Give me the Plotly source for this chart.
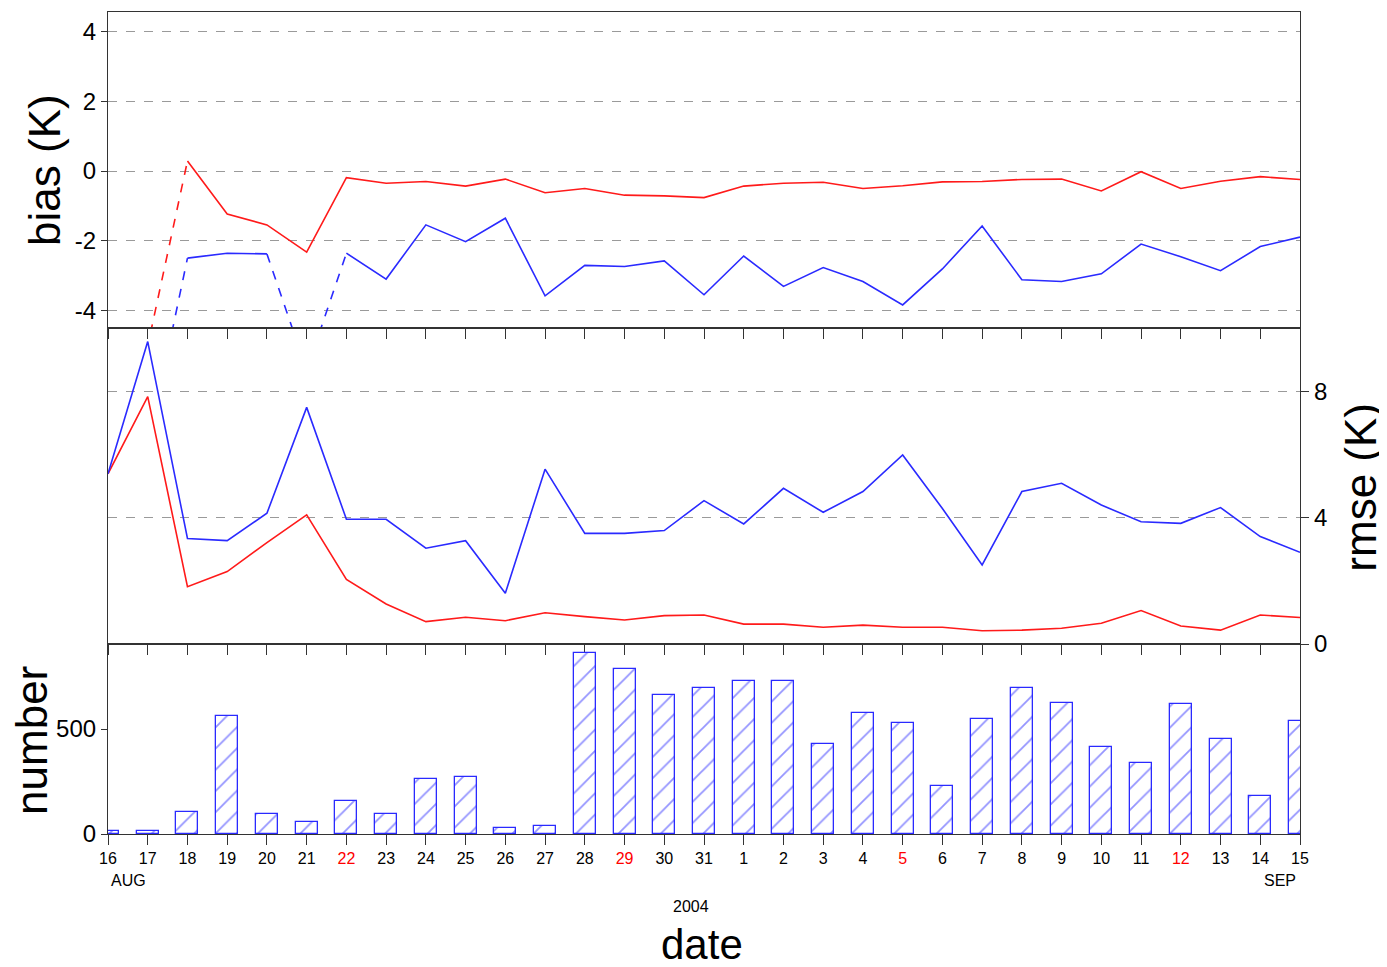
import pandas as pd
import plotly.graph_objects as go

# ---------------- data ----------------
dates = [d.strftime("%Y-%m-%d") for d in pd.date_range("2004-08-16", "2004-09-15")]
day_labels = ["16", "17", "18", "19", "20", "21", "22", "23", "24", "25", "26", "27", "28", "29", "30", "31",
              "1", "2", "3", "4", "5", "6", "7", "8", "9", "10", "11", "12", "13", "14", "15"]
sunday_labels = ["22", "29", "5", "12"]

bias_red = [-5.3, -5.0, 0.29, -1.23, -1.54, -2.32, -0.19, -0.35, -0.30, -0.43, -0.23, -0.62, -0.50, -0.69, -0.71, -0.76,
            -0.43, -0.35, -0.32, -0.50, -0.42, -0.31, -0.30, -0.24, -0.23, -0.57, -0.02, -0.50, -0.29, -0.16, -0.24]
bias_blue = [-5.3, -7.9, -2.49, -2.35, -2.37, -5.7, -2.35, -3.09, -1.54, -2.02, -1.35, -3.57, -2.70, -2.73, -2.57, -3.54,
             -2.43, -3.30, -2.76, -3.16, -3.83, -2.80, -1.57, -3.11, -3.16, -2.94, -2.09, -2.45, -2.85, -2.16, -1.89]
rmse_red = [5.40, 7.85, 1.82, 2.30, 3.22, 4.10, 2.05, 1.27, 0.71, 0.85, 0.74, 0.99, 0.87, 0.76, 0.90, 0.92,
            0.63, 0.63, 0.53, 0.60, 0.53, 0.53, 0.42, 0.44, 0.50, 0.66, 1.06, 0.57, 0.44, 0.92, 0.84]
rmse_blue = [5.40, 9.60, 3.35, 3.28, 4.15, 7.51, 3.96, 3.96, 3.04, 3.28, 1.61, 5.55, 3.51, 3.51, 3.60, 4.55,
             3.81, 4.94, 4.18, 4.84, 6.00, 4.30, 2.51, 4.84, 5.10, 4.41, 3.88, 3.83, 4.33, 3.41, 2.91]
counts = [16, 14, 103, 562, 95, 59, 157, 95, 260, 273, 27, 38, 863, 784, 662, 694,
          728, 728, 429, 575, 530, 229, 549, 694, 622, 416, 336, 617, 451, 183, 540]

BIAS_RANGE = [-4.49, 4.55]
RMSE_RANGE = [0, 10.03]
NUM_RANGE = [0, 905]

RED = "#ff1a1a"
BLUE = "#2a2aff"
FONT = "Liberation Sans, Arial, sans-serif"


def split_segments(xs, ys, lo, hi):
    """Solid where both ends are inside the axis range, dashed otherwise."""
    out = {"solid": ([], []), "dash": ([], [])}
    for i in range(len(xs) - 1):
        inside = lo <= ys[i] <= hi and lo <= ys[i + 1] <= hi
        key = "solid" if inside else "dash"
        sx, sy = out[key]
        if sx and sx[-1] == xs[i]:
            sx.append(xs[i + 1]); sy.append(ys[i + 1])
        else:
            if sx:
                sx.append(None); sy.append(None)
            sx += [xs[i], xs[i + 1]]; sy += [ys[i], ys[i + 1]]
    return out


fig = go.Figure()

# ---- bias panel ----
for ys, col in [(bias_red, RED), (bias_blue, BLUE)]:
    segs = split_segments(dates, ys, BIAS_RANGE[0], BIAS_RANGE[1])
    for key, dash in [("solid", "solid"), ("dash", "dash")]:
        sx, sy = segs[key]
        if sx:
            fig.add_trace(go.Scatter(x=sx, y=sy, mode="lines", xaxis="x", yaxis="y",
                                     line=dict(color=col, width=1.6, dash=dash),
                                     showlegend=False, connectgaps=False))

# ---- rmse panel ----
for ys, col in [(rmse_red, RED), (rmse_blue, BLUE)]:
    fig.add_trace(go.Scatter(x=dates, y=ys, mode="lines", xaxis="x2", yaxis="y2",
                             line=dict(color=col, width=1.6), showlegend=False))

# ---- number panel ----
fig.add_trace(go.Bar(x=dates, y=counts, xaxis="x3", yaxis="y3",
                     width=0.555 * 86400000,
                     marker=dict(color="white",
                                 line=dict(color=BLUE, width=1.3),
                                 pattern=dict(shape="/", fgcolor=BLUE, bgcolor="white",
                                              size=15, solidity=0.12)),
                     showlegend=False))

ticktext = [f"<span style='color:red'>{d}</span>" if d in sunday_labels else d for d in day_labels]

xcommon = dict(type="date", range=[dates[0], dates[-1]], showgrid=False, zeroline=False,
               showline=True, linecolor="#333333", linewidth=1.2, mirror=True,
               tickmode="array", tickvals=dates, ticks="outside", tickcolor="#333333",
               ticklen=10, tickwidth=1.2)

top_h = 316 / 822
mid_h = 316 / 822
bot_h = 190 / 822

# The page body adds an 8px margin, so the figure is 8px smaller and margins shifted.
fig.update_layout(
    width=1379, height=959,
    margin=dict(l=100, r=87, t=4, b=133),
    paper_bgcolor="white", plot_bgcolor="white",
    font=dict(family=FONT, color="black"),
    bargap=0,
    xaxis=dict(**xcommon, anchor="y", domain=[0, 1], showticklabels=False),
    xaxis2=dict(**xcommon, anchor="y2", domain=[0, 1], showticklabels=False),
    xaxis3=dict(**xcommon, anchor="y3", domain=[0, 1], showticklabels=True,
                ticktext=ticktext, tickfont=dict(size=16, family=FONT)),
    yaxis=dict(domain=[bot_h + mid_h, 1], range=BIAS_RANGE, anchor="x",
               tickmode="array", tickvals=[-4, -2, 0, 2, 4], ticktext=["-4", "-2", "0", "2", "4"],
               ticks="outside", ticklen=6, tickcolor="#333333",
               tickfont=dict(size=24), showgrid=True, gridcolor="#9a9a9a", griddash="dash",
               gridwidth=1.3, zeroline=False, showline=True, linecolor="#333333",
               linewidth=1.2, mirror=True),
    yaxis2=dict(domain=[bot_h, bot_h + mid_h], range=RMSE_RANGE, anchor="x2", side="right",
                tickmode="array", tickvals=[0, 4, 8], ticktext=["0", "4", "8"],
                ticks="outside", ticklen=8, tickcolor="#333333",
                tickfont=dict(size=24), showgrid=True, gridcolor="#9a9a9a", griddash="dash",
                gridwidth=1.3, zeroline=False, showline=True, linecolor="#333333",
                linewidth=1.2, mirror=True),
    yaxis3=dict(domain=[0, bot_h], range=NUM_RANGE, anchor="x3",
                tickmode="array", tickvals=[0, 500], ticktext=["0", "500"],
                ticks="outside", ticklen=6, tickcolor="#333333",
                tickfont=dict(size=24), showgrid=False, zeroline=False, showline=True,
                linecolor="#333333", linewidth=1.2, mirror=True),
)

ann = [
    dict(text="bias (K)", x=-0.0529, y=0.8078, textangle=-90, font=dict(size=44)),
    dict(text="number", x=-0.0638, y=0.1144, textangle=-90, font=dict(size=44)),
    dict(text="rmse (K)", x=1.050, y=0.4221, textangle=-90, font=dict(size=44)),
    dict(text="date", x=0.4983, y=-0.135, font=dict(size=42)),
    dict(text="2004", x=0.489, y=-0.0876, font=dict(size=16)),
    dict(text="AUG", x=0.0168, y=-0.056, font=dict(size=16)),
    dict(text="SEP", x=0.983, y=-0.056, font=dict(size=16)),
]
for a in ann:
    fig.add_annotation(xref="paper", yref="paper", showarrow=False,
                       xanchor="center", yanchor="middle", **a)

fig.write_html("out.html")
